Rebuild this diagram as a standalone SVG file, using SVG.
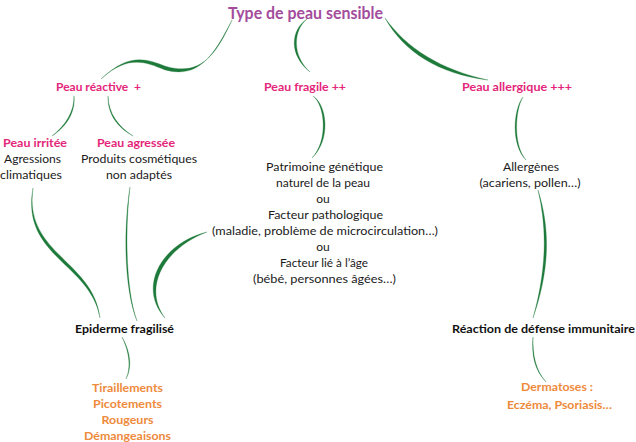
<svg xmlns="http://www.w3.org/2000/svg" width="636" height="442" viewBox="0 0 636 442">
<style>
text{font-family:Lato,"Open Sans","Liberation Sans",sans-serif;text-anchor:middle}
.t{font-size:17px;font-weight:bold;fill:#A34C9C}
.h{font-size:12px;font-weight:bold;fill:#E4267A}
.b{font-size:12px;fill:#1a1a1a}
.k{font-size:12px;font-weight:bold;fill:#111}
.o{font-size:12px;font-weight:bold;fill:#EE8A3C}
.c{fill:#1E7A3A;stroke:#1E7A3A;stroke-width:0.3;stroke-linejoin:round}
</style>
<rect width="636" height="442" fill="#fff"/>
<g id="connectors">
<path class="c" d="M232,20 C216,55 201,76.5 165.5,66.3 C145.5,58.3 128.5,53 101,79 C127.5,55 144.5,61.5 164.5,69.7 C199,79.5 214,55 232,20 Z"/>
<path class="c" d="M307,19 C290.5,30 288.5,55 310,72 C291.5,55 293.5,30 307,19 Z"/>
<path class="c" d="M385,18 C403.8,52 438.8,74 488,80 C441.2,70 406.2,48 385,18 Z"/>
<path class="c" d="M74,96 C75.7,112.2 66.7,126.4 52,136 C65.3,125.6 74.3,111.8 74,96 Z"/>
<path class="c" d="M108,96 C108.5,113.6 118.5,126.6 133,136 C117.5,127.4 107.5,114.4 108,96 Z"/>
<path class="c" d="M313,96 C327.2,105 331.2,140 312,158 C328.8,140 324.8,105 313,96 Z"/>
<path class="c" d="M523,97 C513,110 511,145 526,160 C513,145 515,110 523,97 Z"/>
<path class="c" d="M33,188 C23.4,253.6 93.4,260.6 100,318 C90.6,263.4 20.6,256.4 33,188 Z"/>
<path class="c" d="M130,187 C124.8,230 125.8,290 137,321 C124.2,290 123.2,230 130,187 Z"/>
<path class="c" d="M207,232 C160.5,243.5 137.5,288 165,318 C142.5,288 163.5,248.5 207,232 Z"/>
<path class="c" d="M122,337 C128.6,348 133.6,365 126,379 C132.4,365 127.4,348 122,337 Z"/>
<path class="c" d="M538,190 C550.6,230 549.6,270 533,318 C546.4,270 547.4,230 538,190 Z"/>
<path class="c" d="M533,337 C532.6,355 535.6,370 546,382 C534.4,370 531.4,355 533,337 Z"/>
</g>
<g id="root"><text class="t" x="305.5" y="19" textLength="155" lengthAdjust="spacingAndGlyphs">Type de peau sensible</text></g>
<g id="reactive"><text class="h" x="98.5" y="91" xml:space="preserve" textLength="85" lengthAdjust="spacingAndGlyphs">Peau réactive  +</text></g>
<g id="fragile"><text class="h" x="305" y="91" textLength="82" lengthAdjust="spacingAndGlyphs">Peau fragile ++</text></g>
<g id="allergique"><text class="h" x="517" y="91" textLength="110" lengthAdjust="spacingAndGlyphs">Peau allergique +++</text></g>
<g id="irritee">
<text class="h" x="35" y="147" textLength="64" lengthAdjust="spacingAndGlyphs">Peau irritée</text>
<text class="b" x="32.5" y="163" textLength="57" lengthAdjust="spacingAndGlyphs">Agressions</text>
<text class="b" x="31" y="179" textLength="62" lengthAdjust="spacingAndGlyphs">climatiques</text>
</g>
<g id="agressee">
<text class="h" x="136" y="147" textLength="78" lengthAdjust="spacingAndGlyphs">Peau agressée</text>
<text class="b" x="139" y="163" textLength="116" lengthAdjust="spacingAndGlyphs">Produits cosmétiques</text>
<text class="b" x="139" y="179" textLength="66" lengthAdjust="spacingAndGlyphs">non adaptés</text>
</g>
<g id="causes">
<text class="b" x="324.5" y="171" textLength="117" lengthAdjust="spacingAndGlyphs">Patrimoine génétique</text>
<text class="b" x="323" y="187" textLength="94" lengthAdjust="spacingAndGlyphs">naturel de la peau</text>
<text class="b" x="323" y="203">ou</text>
<text class="b" x="325.5" y="219" textLength="115" lengthAdjust="spacingAndGlyphs">Facteur pathologique</text>
<text class="b" x="325" y="235" textLength="226" lengthAdjust="spacingAndGlyphs">(maladie, problème de microcirculation…)</text>
<text class="b" x="323" y="251">ou</text>
<text class="b" x="324" y="267" textLength="88" lengthAdjust="spacingAndGlyphs">Facteur lié à l’âge</text>
<text class="b" x="324.5" y="283" textLength="143" lengthAdjust="spacingAndGlyphs">(bébé, personnes âgées…)</text>
</g>
<g id="allergenes">
<text class="b" x="531" y="171" textLength="56" lengthAdjust="spacingAndGlyphs">Allergènes</text>
<text class="b" x="530" y="187" textLength="101" lengthAdjust="spacingAndGlyphs">(acariens, pollen…)</text>
</g>
<g id="epiderme"><text class="k" x="124.5" y="333" textLength="99" lengthAdjust="spacingAndGlyphs">Epiderme fragilisé</text></g>
<g id="reaction"><text class="k" x="543.5" y="333" textLength="183" lengthAdjust="spacingAndGlyphs">Réaction de défense immunitaire</text></g>
<g id="symptomes">
<text class="o" x="127.5" y="392" textLength="71" lengthAdjust="spacingAndGlyphs">Tiraillements</text>
<text class="o" x="127.5" y="408" textLength="69" lengthAdjust="spacingAndGlyphs">Picotements</text>
<text class="o" x="127.5" y="424" textLength="52" lengthAdjust="spacingAndGlyphs">Rougeurs</text>
<text class="o" x="127.5" y="440" textLength="87" lengthAdjust="spacingAndGlyphs">Démangeaisons</text>
</g>
<g id="dermatoses">
<text class="o" x="557" y="391" textLength="72" lengthAdjust="spacingAndGlyphs">Dermatoses :</text>
<text class="o" x="559.5" y="409" textLength="105" lengthAdjust="spacingAndGlyphs">Eczéma, Psoriasis…</text>
</g>
</svg>
